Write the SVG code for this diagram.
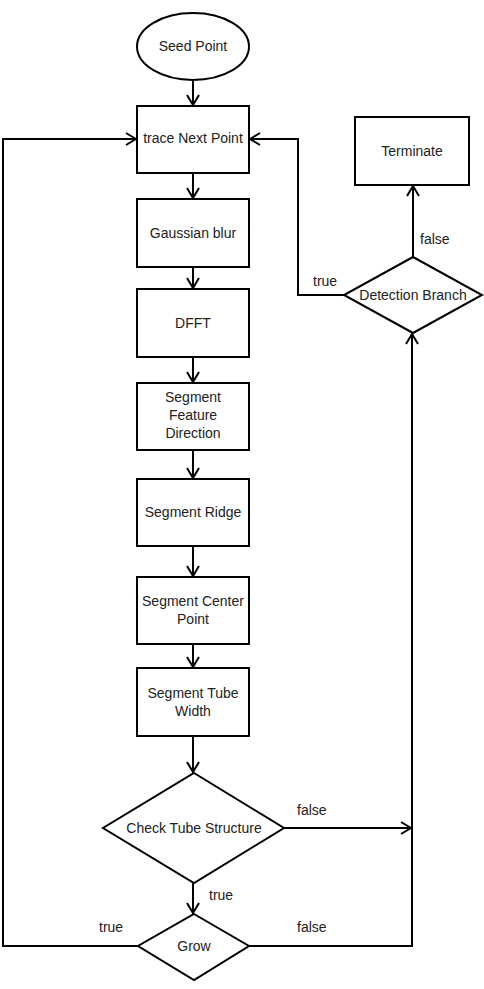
<svg xmlns="http://www.w3.org/2000/svg" width="484" height="989" viewBox="0 0 484 989">
<defs>
<marker id="arr" viewBox="0 0 12 14" refX="11" refY="7" markerWidth="12" markerHeight="14" markerUnits="userSpaceOnUse" orient="auto">
<path d="M1,1 L11,7 L1,13" fill="none" stroke="#000" stroke-width="2"/>
</marker>
<style>
.s{fill:#fff;stroke:#000;stroke-width:2}
.t{font-family:"Liberation Sans",Arial,sans-serif;font-size:14px;fill:#222;text-anchor:middle;dominant-baseline:central}
.l{font-family:"Liberation Sans",Arial,sans-serif;font-size:14px;fill:#222}
.c{fill:none;stroke:#000;stroke-width:2}
</style>
</defs>
<rect width="484" height="989" fill="#fff"/>
<g id="connectors">
<path class="c" d="M193,80 V105" marker-end="url(#arr)"/>
<path class="c" d="M193,173 V198" marker-end="url(#arr)"/>
<path class="c" d="M193,267 V288" marker-end="url(#arr)"/>
<path class="c" d="M193,357 V382" marker-end="url(#arr)"/>
<path class="c" d="M193,450 V478" marker-end="url(#arr)"/>
<path class="c" d="M193,546 V576" marker-end="url(#arr)"/>
<path class="c" d="M193,644 V667" marker-end="url(#arr)"/>
<path class="c" d="M193,736 V772" marker-end="url(#arr)"/>
<path class="c" d="M193,883 V913" marker-end="url(#arr)"/>
<path class="c" d="M283,828 H411" marker-end="url(#arr)"/>
<path class="c" d="M249,946 H412 V334" marker-end="url(#arr)"/>
<path class="c" d="M138,946 H3 V139 H136" marker-end="url(#arr)"/>
<path class="c" d="M344,295 H298 V139 H250" marker-end="url(#arr)"/>
<path class="c" d="M413,257 V186" marker-end="url(#arr)"/>
<text class="l" x="420" y="244">false</text>
<text class="l" x="313" y="286">true</text>
<text class="l" x="297" y="815">false</text>
<text class="l" x="209" y="900">true</text>
<text class="l" x="297" y="932">false</text>
<text class="l" x="99" y="932">true</text>
</g>
<g id="seed"><ellipse class="s" cx="193" cy="46.5" rx="56" ry="33.5"/><text class="t" x="193" y="46">Seed Point</text></g>
<g id="trace"><rect class="s" x="137" y="106" width="112" height="67"/><text class="t" x="193" y="138">trace Next Point</text></g>
<g id="gauss"><rect class="s" x="137" y="199" width="112" height="68"/><text class="t" x="193" y="233">Gaussian blur</text></g>
<g id="dfft"><rect class="s" x="137" y="289" width="112" height="68"/><text class="t" x="193" y="323">DFFT</text></g>
<g id="sfd"><rect class="s" x="137" y="383" width="112" height="67"/><text class="t" x="193" y="397">Segment</text><text class="t" x="193" y="415">Feature</text><text class="t" x="193" y="433">Direction</text></g>
<g id="ridge"><rect class="s" x="137" y="479" width="112" height="67"/><text class="t" x="193" y="512">Segment Ridge</text></g>
<g id="center"><rect class="s" x="137" y="577" width="112" height="67"/><text class="t" x="193" y="601">Segment Center</text><text class="t" x="193" y="619">Point</text></g>
<g id="width"><rect class="s" x="137" y="668" width="112" height="68"/><text class="t" x="193" y="693">Segment Tube</text><text class="t" x="193" y="711">Width</text></g>
<g id="check"><polygon class="s" points="194,773 284,828 194,883 103,828"/><text class="t" x="194" y="828">Check Tube Structure</text></g>
<g id="grow"><polygon class="s" points="194,914 249,946 194,980 138,946"/><text class="t" x="194" y="946">Grow</text></g>
<g id="detect"><polygon class="s" points="413,257 482,295 413,333 344,295"/><text class="t" x="413" y="295">Detection Branch</text></g>
<g id="terminate"><rect class="s" x="355" y="117" width="114" height="68"/><text class="t" x="412" y="151">Terminate</text></g>
</svg>
